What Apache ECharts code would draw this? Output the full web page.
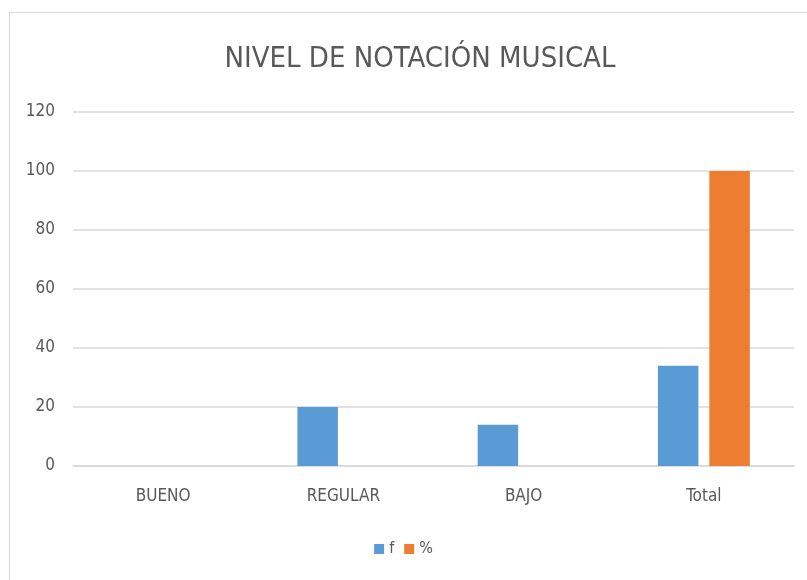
<!DOCTYPE html>
<html><head><meta charset="utf-8">
<script src="https://cdn.jsdelivr.net/npm/echarts@6/dist/echarts.min.js"></script>
<style>
html,body{margin:0;padding:0;background:#fff;}
#frame{position:absolute;left:9px;top:12px;width:820px;height:600px;border:1.5px solid #d9d9d9;box-sizing:border-box;}
#c{position:absolute;left:0;top:0;width:807px;height:580px;}
</style></head>
<body>
<div id="frame"></div>
<div id="c"></div>
<script>
const categories = ["BUENO", "REGULAR", "BAJO", "Total"];
const seriesF = [0, 20, 14, 34];
const seriesPct = [0, 0, 0, 100];
const yTicks = { min: 0, max: 120, interval: 20 };
const FONT = "'Liberation Sans Narrow','DejaVu Sans Condensed',sans-serif";
const chart = echarts.init(document.getElementById('c'));
chart.setOption({
  backgroundColor: 'transparent',
  animation: false,
  title: { text: 'NIVEL DE NOTACIÓN MUSICAL', left: 415, top: 40, textAlign: 'center',
    textStyle: { fontFamily: FONT, fontWeight: 'normal', fontSize: 29, color: '#595959' } },
  legend: { bottom: 18, left: 'center', itemWidth: 10, itemHeight: 10, itemGap: 10,
    icon: 'rect', textStyle: { fontFamily: FONT, fontSize: 16, color: '#595959' } },
  grid: { left: 73, right: 13, top: 112, bottom: 114, containLabel: false },
  xAxis: { type: 'category', data: categories,
    axisLine: { lineStyle: { color: '#d9d9d9', width: 1.5 } }, axisTick: { show: false },
    axisLabel: { fontFamily: FONT, fontSize: 17, color: '#595959', margin: 22 } },
  yAxis: { type: 'value', min: yTicks.min, max: yTicks.max, interval: yTicks.interval,
    axisLine: { show: false }, axisTick: { show: false },
    splitLine: { lineStyle: { color: '#d9d9d9', width: 1.5 } },
    axisLabel: { fontFamily: FONT, fontSize: 17, color: '#595959', margin: 18 } },
  series: [
    { name: 'f', type: 'bar', data: seriesF, itemStyle: { color: '#5b9bd5' }, barGap: '27%', barCategoryGap: '49%' },
    { name: '%', type: 'bar', data: seriesPct, itemStyle: { color: '#ed7d31' } }
  ]
});
</script>
</body></html>
